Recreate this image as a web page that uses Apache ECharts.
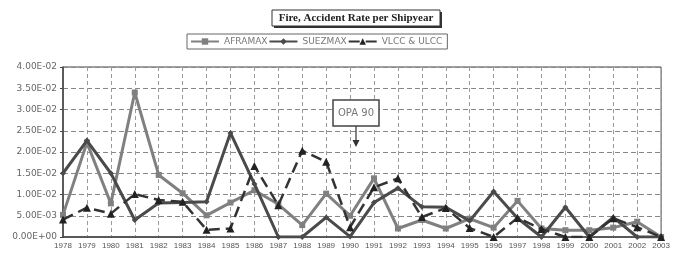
<!DOCTYPE html>
<html>
<head>
<meta charset="utf-8">
<script src="https://cdn.jsdelivr.net/npm/echarts@6/dist/echarts.min.js"></script>
<style>
html, body { margin: 0; padding: 0; background: #fff; }
#chart { width: 673px; height: 253px; }
</style>
</head>
<body>
<div id="chart"></div>
<script>
// years on the x axis
var years = ['1978', '1979', '1980', '1981', '1982', '1983', '1984', '1985', '1986', '1987',
    '1988', '1989', '1990', '1991', '1992', '1993', '1994', '1995', '1996', '1997',
    '1998', '1999', '2000', '2001', '2002', '2003'];
// accident rate per shipyear
var aframax = [0.0052, 0.0222, 0.0079, 0.0340, 0.0146, 0.0103, 0.0051, 0.0081, 0.0110, 0.0077,
    0.0028, 0.0102, 0.0050, 0.0138, 0.0020, 0.0040, 0.0020, 0.0043, 0.0022, 0.0085,
    0.0020, 0.0016, 0.0016, 0.0022, 0.0036, 0.0000];
var suezmax = [0.0150, 0.0227, 0.0150, 0.0040, 0.0080, 0.0081, 0.0083, 0.0245, 0.0125, 0.0000,
    0.0000, 0.0046, 0.0001, 0.0081, 0.0115, 0.0071, 0.0070, 0.0038, 0.0107, 0.0044,
    0.0000, 0.0070, 0.0000, 0.0046, 0.0000, 0.0000];
var vlcc = [0.0041, 0.0069, 0.0055, 0.0101, 0.0087, 0.0083, 0.0017, 0.0020, 0.0167, 0.0075,
    0.0203, 0.0177, 0.0023, 0.0117, 0.0138, 0.0047, 0.0068, 0.0021, 0.0000, 0.0045,
    0.0019, 0.0000, 0.0000, 0.0044, 0.0023, 0.0000];

var myChart = echarts.init(document.getElementById('chart'));

// 4.00E-02 style labels
function sci(v) {
    if (v === 0) return '0.00E+00';
    var s = v.toExponential(2).toUpperCase();
    var p = s.split('E');
    var e = parseInt(p[1], 10);
    var es = (e < 0 ? '-' : '+') + (Math.abs(e) < 10 ? '0' : '') + Math.abs(e);
    return p[0] + 'E' + es;
}

var option = {
    animation: false,
    backgroundColor: '#fff',
    textStyle: { fontFamily: 'DejaVu Sans, sans-serif' },
    grid: {
        left: 63, right: 1, top: 67, bottom: 16,
        show: true, borderColor: '#444', borderWidth: 1, containLabel: false
    },
    legend: {
        top: 34, left: 187,
        itemWidth: 28, itemHeight: 8, itemGap: 1,
        padding: [3, 5, 3, 3],
        borderColor: '#666', borderWidth: 1,
        textStyle: { fontSize: 9, color: '#777', fontFamily: 'DejaVu Sans, sans-serif' },
        data: ['AFRAMAX', 'SUEZMAX', 'VLCC & ULCC']
    },
    xAxis: {
        type: 'category',
        data: years,
        boundaryGap: false,
        axisLine: { lineStyle: { color: '#444', width: 1.5 } },
        axisTick: { show: false },
        axisLabel: { fontSize: 8, color: '#555', margin: 5, interval: 0, fontFamily: 'Liberation Sans, Arial, sans-serif' },
        splitLine: { show: true, lineStyle: { type: [4, 3], color: '#999' } }
    },
    yAxis: {
        type: 'value',
        min: 0, max: 0.04, interval: 0.005,
        axisLine: { show: true, lineStyle: { color: '#444', width: 1.5 } },
        axisTick: { show: true, length: 3, lineStyle: { color: '#444' } },
        axisLabel: { fontSize: 9, color: '#666', margin: 6, formatter: sci },
        splitLine: { lineStyle: { type: [5, 3], color: '#888' } }
    },
    series: [{
        name: 'AFRAMAX',
        type: 'line',
        data: aframax,
        symbol: 'rect', symbolSize: 6,
        lineStyle: { color: '#808080', width: 3 },
        itemStyle: { color: '#808080' },
        z: 3
    }, {
        name: 'SUEZMAX',
        type: 'line',
        data: suezmax,
        symbol: 'diamond', symbolSize: 6,
        lineStyle: { color: '#4a4a4a', width: 3 },
        itemStyle: { color: '#4a4a4a' },
        z: 4
    }, {
        name: 'VLCC & ULCC',
        type: 'line',
        data: vlcc,
        symbol: 'triangle', symbolSize: 8,
        lineStyle: { color: '#333', width: 2.5, type: [11, 6] },
        itemStyle: { color: '#222' },
        z: 5
    }],
    graphic: [
        // title box with shadow
        { type: 'rect', shape: { x: 274, y: 12, width: 168, height: 16 }, style: { fill: '#333' } },
        { type: 'rect', shape: { x: 272, y: 10, width: 168, height: 16 }, style: { fill: '#fff', stroke: '#333', lineWidth: 1 } },
        { type: 'text', x: 356, y: 18, style: {
            text: 'Fire, Accident Rate per Shipyear', align: 'center', verticalAlign: 'middle',
            font: 'bold 11px "Liberation Serif", "DejaVu Serif", serif', fill: '#222' } },
        // OPA 90 annotation
        { type: 'rect', shape: { x: 333, y: 100, width: 46, height: 26 }, style: { fill: '#fff', stroke: '#444', lineWidth: 1.5 }, z: 10 },
        { type: 'text', x: 356, y: 113, z: 11, style: {
            text: 'OPA 90', align: 'center', verticalAlign: 'middle',
            font: '10px "DejaVu Sans", sans-serif', fill: '#777' } },
        { type: 'line', shape: { x1: 356, y1: 126, x2: 356, y2: 142 }, style: { stroke: '#333', lineWidth: 1.2 }, z: 10 },
        { type: 'polygon', shape: { points: [[352.5, 140], [359.5, 140], [356, 147]] }, style: { fill: '#333' }, z: 10 }
    ]
};

myChart.setOption(option);
</script>
</body>
</html>
